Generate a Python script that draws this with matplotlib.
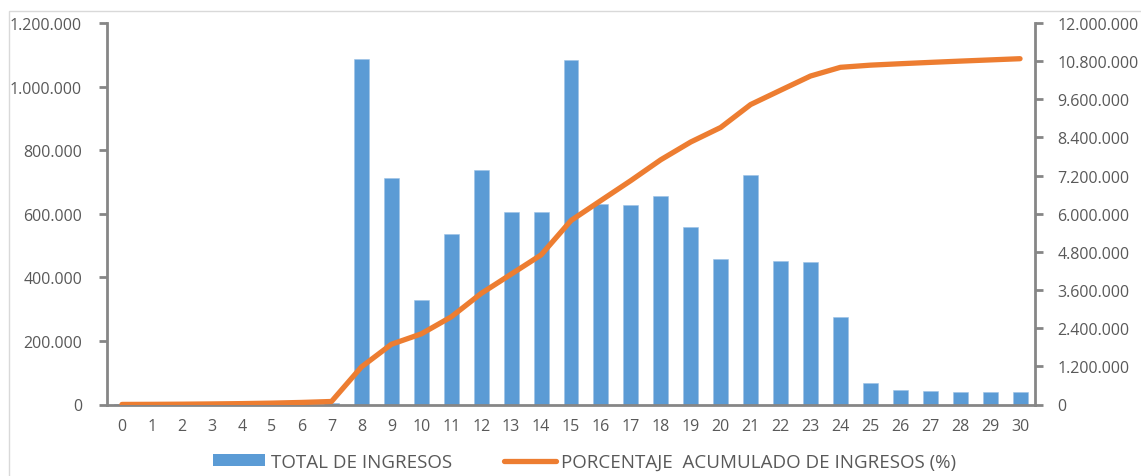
import matplotlib
matplotlib.use("Agg")
import matplotlib.pyplot as plt
from matplotlib.ticker import FuncFormatter, MultipleLocator
from matplotlib.patches import Rectangle
from matplotlib.lines import Line2D

# Income per category (0..30)
categorias = list(range(31))
total_ingresos = [
    500, 800, 1200, 1500, 2000, 2500, 3500, 4000,
    1087000, 712000, 328000, 535000, 737000, 605000, 605000, 1083000,
    630000, 627000, 655000, 558000, 457000, 721000, 450000, 447000,
    274000, 68000, 45000, 42000, 40000, 38000, 38000,
]
# Accumulated income
acumulado = [
    2000, 5000, 10000, 18000, 28000, 43000, 65000, 95000,
    1182000, 1894000, 2222000, 2757000, 3494000, 4099000, 4704000, 5787000,
    6417000, 7044000, 7699000, 8257000, 8714000, 9435000, 9885000, 10332000,
    10606000, 10674000, 10719000, 10761000, 10801000, 10839000, 10877000,
]
etiqueta_barras = "TOTAL DE INGRESOS"
etiqueta_linea = "PORCENTAJE  ACUMULADO DE INGRESOS (%)"

AZUL = "#5B9BD5"
NARANJA = "#ED7D31"
GRIS_EJE = "#868686"
GRIS_TXT = "#595959"

plt.rcParams["font.family"] = ["Open Sans", "DejaVu Sans"]

W, H = 1141, 477
fig = plt.figure(figsize=(W / 100, H / 100), dpi=100)

# light frame around the chart area
fig.patches.append(Rectangle((9 / W, -0.01), 1.02 - 9 / W, 1 - 12 / H + 0.01,
                             transform=fig.transFigure, fill=False,
                             edgecolor="#D9D9D9", linewidth=1.0))

left, right, bottom, top = 107 / W, 1035 / W, 1 - 405.5 / H, 1 - 24 / H
ax = fig.add_axes([left, bottom, right - left, top - bottom])
ax2 = ax.twinx()

ax.bar(categorias, total_ingresos, width=0.5, color=AZUL,
       edgecolor="#9DC3E6", linewidth=0.4, zorder=2)
ax2.plot(categorias, acumulado, color=NARANJA, linewidth=3.8,
         solid_capstyle="round", solid_joinstyle="round", zorder=3)

ax.set_xlim(-0.5, 30.5)
ax.set_ylim(0, 1200000)
ax2.set_ylim(0, 12000000)
ax.yaxis.set_major_locator(MultipleLocator(200000))
ax2.yaxis.set_major_locator(MultipleLocator(1200000))

def miles(v, pos):
    return f"{int(round(v)):,}".replace(",", ".")

fmt = FuncFormatter(miles)
ax.yaxis.set_major_formatter(fmt)
ax2.yaxis.set_major_formatter(fmt)
ax.set_xticks(categorias)
ax.set_xticklabels([str(c) for c in categorias])

for a in (ax, ax2):
    a.spines["top"].set_visible(False)
    for s in ("left", "right", "bottom"):
        a.spines[s].set_color(GRIS_EJE)
        a.spines[s].set_linewidth(2.0)
    a.set_facecolor("none")

ax.spines["right"].set_visible(False)
ax2.spines["left"].set_visible(False)
ax2.spines["bottom"].set_visible(False)

ax.tick_params(axis="y", direction="out", length=6, width=2, color=GRIS_EJE,
               labelcolor=GRIS_TXT, labelsize=11.5, pad=12)
ax2.tick_params(axis="y", direction="out", length=6, width=2, color=GRIS_EJE,
                labelcolor=GRIS_TXT, labelsize=11.5, pad=10)
ax.tick_params(axis="x", length=0, labelcolor=GRIS_TXT, labelsize=11.5, pad=10)

handles = [
    Rectangle((0, 0), 1, 1, facecolor=AZUL, edgecolor="none"),
    Line2D([0], [0], color=NARANJA, linewidth=3.8, solid_capstyle="round"),
]
leg = fig.legend(handles, [etiqueta_barras, etiqueta_linea], loc="center",
                 bbox_to_anchor=(585 / W, 1 - 463 / H), ncol=2, frameon=False,
                 fontsize=13.5, handlelength=2.75, handleheight=0.6,
                 handletextpad=0.3, columnspacing=2.8)
for t in leg.get_texts():
    t.set_color(GRIS_TXT)

fig.savefig("out.png", dpi=100, facecolor="white")
